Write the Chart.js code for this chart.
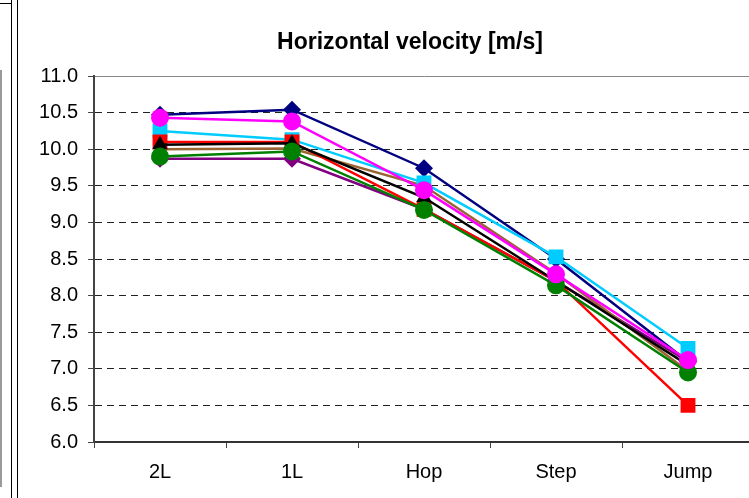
<!DOCTYPE html>
<html>
<head>
<meta charset="utf-8">
<script src="https://cdn.jsdelivr.net/npm/chart.js@4"></script>
<style>
html,body{margin:0;padding:0;background:#fff;overflow:hidden;width:749px;height:498px;}
#c{position:absolute;left:0;top:0;}
.ln{position:absolute;}
</style>
</head>
<body>
<div class="ln" style="left:0;top:70px;width:2px;height:417px;background:#9a9a9a;"></div>
<div class="ln" style="left:11px;top:0;width:1px;height:498px;background:#000;"></div>
<div class="ln" style="left:0;top:3px;width:12px;height:1px;background:#000;"></div>
<div class="ln" style="left:17px;top:0;width:1px;height:498px;background:#000;"></div>
<canvas id="c" width="780" height="498"></canvas>
<script>
// ---- data ----
const categories = ["2L", "1L", "Hop", "Step", "Jump"];
const yTicks = [6.0, 6.5, 7.0, 7.5, 8.0, 8.5, 9.0, 9.5, 10.0, 10.5, 11.0];
const navy    = [10.47, 10.54, 9.74, 8.50, 7.10];
const magenta = [10.43, 10.38, 9.44, 8.29, 7.12];
const cyan    = [10.25, 10.13, 9.54, 8.53, 7.28];
const red     = [10.10, 10.10, 9.18, 8.20, 6.50];
const black   = [10.06, 10.08, 9.34, 8.20, 7.05];
const brown   = [10.00, 10.01, 9.50, 8.30, 6.97];
const green   = [9.90, 9.97, 9.17, 8.14, 6.95];
const purple  = [9.87, 9.87, 9.18, 8.20, 7.10];
const title = "Horizontal velocity [m/s]";

// ---- chart ----
const FONT = "'Liberation Sans', Arial, sans-serif";
function ds(label, data, color, style, radius) {
  return {
    label, data,
    borderColor: color, backgroundColor: color,
    pointBackgroundColor: color, pointBorderColor: color,
    borderWidth: 2.5, pointStyle: style, pointRadius: radius,
    pointBorderWidth: 0, pointHoverRadius: radius,
    tension: 0, fill: false
  };
}
// first dataset is drawn on top
const datasets = [
  ds("magenta", magenta, "#FF00FF", "circle", 9),
  ds("green", green, "#008000", "circle", 9),
  ds("black", black, "#000000", "triangle", 9),
  ds("red", red, "#FF0000", "rect", 10.5),
  ds("cyan", cyan, "#00CCFF", "rect", 10.5),
  ds("brown", brown, "#996633", "circle", 0),
  ds("purple", purple, "#800080", "rectRot", 9),
  ds("navy", navy, "#000080", "rectRot", 9)
];

// title text centred over the chart block (drawn as canvas text)
const titlePlugin = {
  id: "titleAt",
  afterDraw(chart) {
    const ctx = chart.ctx;
    ctx.save();
    ctx.font = "bold 23px " + FONT;
    ctx.fillStyle = "#000";
    ctx.textAlign = "center";
    ctx.textBaseline = "middle";
    ctx.fillText(title, 410, 43);
    ctx.restore();
  }
};

new Chart(document.getElementById("c"), {
  type: "line",
  data: { labels: categories, datasets },
  plugins: [titlePlugin],
  options: {
    responsive: false,
    animation: false,
    devicePixelRatio: 1,
    events: [],
    layout: { padding: { left: 18, right: 26, top: 76, bottom: 0 } },
    plugins: {
      legend: { display: false },
      tooltip: { enabled: false },
      title: { display: false }
    },
    scales: {
      x: {
        type: "category",
        offset: true,
        afterFit: (s) => { s.height = 56; },
        grid: { display: true, offset: true, drawOnChartArea: false, drawTicks: true,
                tickLength: 6, tickColor: "#444", tickWidth: 1 },
        border: { display: true, color: "#333", width: 2 },
        ticks: { color: "#000", padding: 12, font: { family: FONT, size: 20 }, maxRotation: 0 }
      },
      y: {
        min: 6, max: 11,
        afterFit: (s) => { s.width = 76; },
        afterBuildTicks: (s) => { s.ticks = yTicks.map(v => ({ value: v })); },
        grid: {
          display: true, drawOnChartArea: true, drawTicks: true,
          tickLength: 6, tickColor: "#444", tickWidth: 1, lineWidth: 1,
          color: (c) => (c.tick && Math.abs(c.tick.value - 11) < 1e-6) ? "#888" : "#222"
        },
        border: {
          display: true, color: "#444", width: 2,
          dash: (c) => (c.tick && (Math.abs(c.tick.value - 11) < 1e-6 || Math.abs(c.tick.value - 6) < 1e-6)) ? [] : [7, 5]
        },
        ticks: {
          color: "#000", padding: 10, font: { family: FONT, size: 20 },
          callback: (v) => Number(v).toFixed(1)
        }
      }
    }
  }
});
</script>
</body>
</html>
